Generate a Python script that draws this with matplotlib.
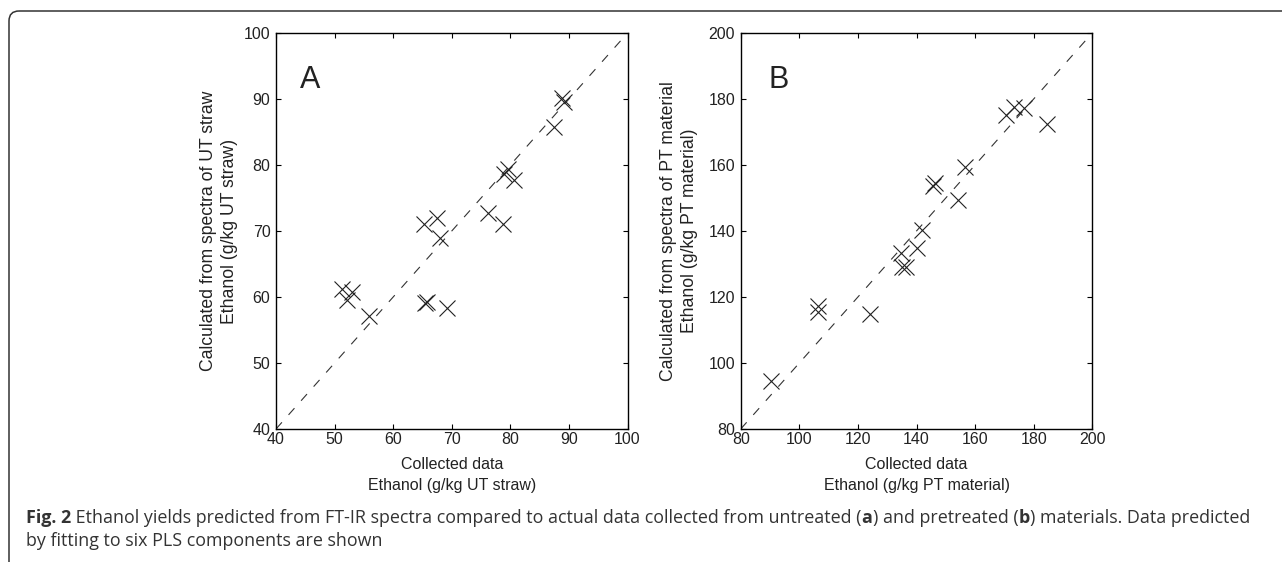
import numpy as np
import matplotlib.pyplot as plt
from matplotlib.patches import FancyBboxPatch

# panel A: untreated straw
a_collected = [88.8, 89.2, 87.5, 78.9, 79.6, 80.7, 76.1, 78.7, 65.2, 67.5, 68.0,
               51.2, 52.9, 52.2, 55.8, 65.4, 65.7, 69.2]
a_calculated = [90.1, 89.6, 85.8, 78.7, 79.4, 77.7, 72.8, 71.0, 71.0, 71.9, 69.0,
                61.2, 60.8, 59.6, 57.1, 59.1, 59.3, 58.3]

# panel B: pretreated material
b_collected = [170.7, 173.2, 176.6, 184.6, 156.5, 146.2, 145.6, 154.1, 141.9, 140.2,
               134.7, 135.0, 136.5, 106.3, 106.5, 124.2, 90.4]
b_calculated = [175.2, 177.5, 177.2, 172.4, 159.5, 154.5, 153.7, 149.4, 140.3, 134.8,
                133.2, 129.2, 129.0, 117.3, 115.5, 114.8, 94.5]

a_ticks = [40, 50, 60, 70, 80, 90, 100]
b_ticks = [80, 100, 120, 140, 160, 180, 200]

plt.rcParams['font.family'] = ['Liberation Sans', 'DejaVu Sans']

fig = plt.figure(figsize=(12.82, 5.62), dpi=100)

# frame + caption layer in pixel coordinates
bg = fig.add_axes([0, 0, 1, 1])
bg.set_xlim(0, 1282)
bg.set_ylim(562, 0)
bg.axis("off")
bg.add_patch(FancyBboxPatch((9, 11), 1400, 700, boxstyle="round,pad=0,rounding_size=10",
                            fill=False, ec="#333333", lw=1.1))

panels = [
    (0.2153, a_collected, a_calculated, a_ticks, "A", "UT straw", -0.108, 0.068),
    (0.5778, b_collected, b_calculated, b_ticks, "B", "PT material", -0.123, 0.078),
]

for left, xs, ys, ticks, letter, name, ylab_x, letter_x in panels:
    ax = fig.add_axes([left, 0.2367, 0.2742, 0.7046])
    lo, hi = ticks[0], ticks[-1]
    ax.plot([lo, hi], [lo, hi], color="#333333", lw=0.8, dashes=(8, 9))
    ax.plot(xs, ys, ls="none", marker="x", ms=11, mew=0.8, color="#222222")
    ax.set_xlim(lo, hi)
    ax.set_ylim(lo, hi)
    ax.set_xticks(ticks)
    ax.set_yticks(ticks)
    ax.tick_params(direction="in", length=3.5, width=0.8, top=True, right=True,
                   labelsize=11.5, labelcolor="#222222", pad=2)
    ax.tick_params(axis="y", pad=4)
    for s in ax.spines.values():
        s.set_linewidth(1.0)
    ax.set_xlabel("Collected data\nEthanol (g/kg %s)" % name, fontsize=11.5,
                  color="#222222", linespacing=1.5)
    ax.xaxis.set_label_coords(0.5, -0.072)
    ax.set_ylabel("Calculated from spectra of %s\nEthanol (g/kg %s)" % (name, name),
                  fontsize=12.7, color="#222222", linespacing=1.3)
    ax.yaxis.set_label_coords(ylab_x, 0.5)
    ax.text(letter_x, 0.86, letter, transform=ax.transAxes, fontsize=22,
            color="#222222", va="baseline", ha="left")

# caption with bold pieces
renderer = fig.canvas.get_renderer()
cap_lines = [
    [("Fig. 2", "bold"),
     (" Ethanol yields predicted from FT-IR spectra compared to actual data collected from untreated (", "normal"),
     ("a", "bold"), (") and pretreated (", "normal"), ("b", "bold"),
     (") materials. Data predicted", "normal")],
    [("by fitting to six PLS components are shown", "normal")],
]
cap_y = [518, 541]
for pieces, y in zip(cap_lines, cap_y):
    x = 26
    for s, w in pieces:
        t = bg.text(x, y, s, fontsize=12.9, fontweight=w, family="Open Sans",
                    color="#333333", va="center", ha="left")
        x += t.get_window_extent(renderer).width

fig.savefig("out.png", dpi=100)
